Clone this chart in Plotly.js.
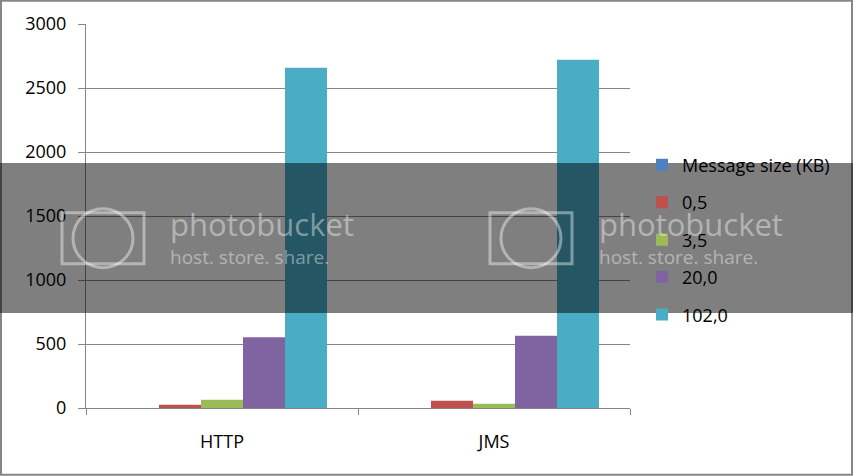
<!DOCTYPE html>
<html>
<head>
<meta charset="utf-8">
<script src="https://cdn.plot.ly/plotly-3.0.1.min.js"></script>
<style>
  html, body { margin: 0; padding: 0; background: #ffffff; }
  #chart { width: 853px; height: 476px; }
</style>
</head>
<body>
<div id="chart"></div>
<script>
// ---- data ----
const categories = ["HTTP", "JMS"];
const seriesNames = ["Message size (KB)", "0,5", "3,5", "20,0", "102,0"];
const msgSize = [0, 0];
const s0_5 = [26, 57];
const s3_5 = [65, 34];
const s20_0 = [552, 565];
const s102_0 = [2659, 2721];
const yTicks = [0, 500, 1000, 1500, 2000, 2500, 3000];

const seriesValues = [msgSize, s0_5, s3_5, s20_0, s102_0];
const colors = ["#4F81BD", "#C0504D", "#9BBB59", "#8064A2", "#4BACC6"];

const traces = seriesNames.map((name, i) => ({
  type: "bar",
  name: name,
  x: categories,
  y: seriesValues[i],
  marker: { color: colors[i], line: { width: 0 } },
  legendgroup: "g" + i,
  hoverinfo: "x+y+name"
}));

// pixel -> paper helpers for decoration
const L = 86, R = 630, T = 24.33, B = 408.33;
const px = v => (v - L) / (R - L);
const py = v => (B - v) / (B - T);

const wmText = "rgba(255,255,255,0.42)";
const shapes = [
  // outer frame
  { type: "rect", xref: "paper", yref: "paper", x0: px(1), x1: px(852), y0: py(1), y1: py(475),
    line: { color: "#868686", width: 2 }, fillcolor: "rgba(0,0,0,0)", layer: "above" },
  // watermark band
  { type: "rect", xref: "paper", yref: "paper", x0: px(0), x1: px(853), y0: py(163.3), y1: py(313.3),
    line: { width: 0 }, fillcolor: "rgba(0,0,0,0.5)", layer: "above" }
];
// camera icons
[60, 488].forEach(cx => {
  shapes.push({ type: "rect", xref: "paper", yref: "paper", x0: px(cx + 2), x1: px(cx + 84), y0: py(213), y1: py(264),
    line: { color: wmText, width: 3 }, fillcolor: "rgba(0,0,0,0)", layer: "above" });
  shapes.push({ type: "circle", xref: "paper", yref: "paper", x0: px(cx + 13), x1: px(cx + 73), y0: py(209), y1: py(268),
    line: { color: wmText, width: 3 }, fillcolor: "rgba(0,0,0,0)", layer: "above" });
});

const annotations = [];
[168, 597].forEach(x => {
  annotations.push({ xref: "paper", yref: "paper", x: px(x), y: py(224), xanchor: "left", yanchor: "middle",
    text: "photobucket", showarrow: false, font: { family: "Open Sans", size: 31, color: wmText } });
  annotations.push({ xref: "paper", yref: "paper", x: px(x), y: py(257), xanchor: "left", yanchor: "middle",
    text: "host. store. share.", showarrow: false, font: { family: "Open Sans", size: 19, color: wmText } });
});

const layout = {
  width: 853,
  height: 476,
  margin: { l: L, r: 853 - R, t: T, b: 476 - B, pad: 0 },
  paper_bgcolor: "#ffffff",
  plot_bgcolor: "#ffffff",
  font: { family: "Open Sans", size: 18, color: "#000000" },
  barmode: "group",
  bargap: 0.228,
  bargroupgap: 0,
  showlegend: true,
  legend: {
    x: px(642), xanchor: "left",
    y: py(147), yanchor: "top",
    font: { family: "Open Sans", size: 18, color: "#000000" },
    tracegroupgap: 11,
    traceorder: "grouped",
    bgcolor: "rgba(0,0,0,0)",
    itemwidth: 30
  },
  xaxis: {
    type: "category",
    showgrid: false,
    showline: true,
    linecolor: "#868686",
    linewidth: 1,
    ticks: "outside",
    tickson: "boundaries",
    ticklen: 6,
    tickcolor: "#868686",
    tickfont: { family: "Open Sans", size: 18, color: "#000000" },
    ticklabelstandoff: 17,
    zeroline: false
  },
  yaxis: {
    range: [0, 3000],
    tickvals: yTicks,
    ticktext: yTicks.map(String),
    showgrid: true,
    gridcolor: "#868686",
    gridwidth: 1,
    showline: true,
    linecolor: "#868686",
    linewidth: 1,
    ticks: "outside",
    ticklen: 7,
    tickcolor: "#868686",
    tickfont: { family: "Open Sans", size: 18, color: "#000000" },
    ticklabelstandoff: 8,
    zeroline: false
  },
  shapes: shapes,
  annotations: annotations
};

Plotly.newPlot("chart", traces, layout, { displayModeBar: false, staticPlot: true });
</script>
</body>
</html>
